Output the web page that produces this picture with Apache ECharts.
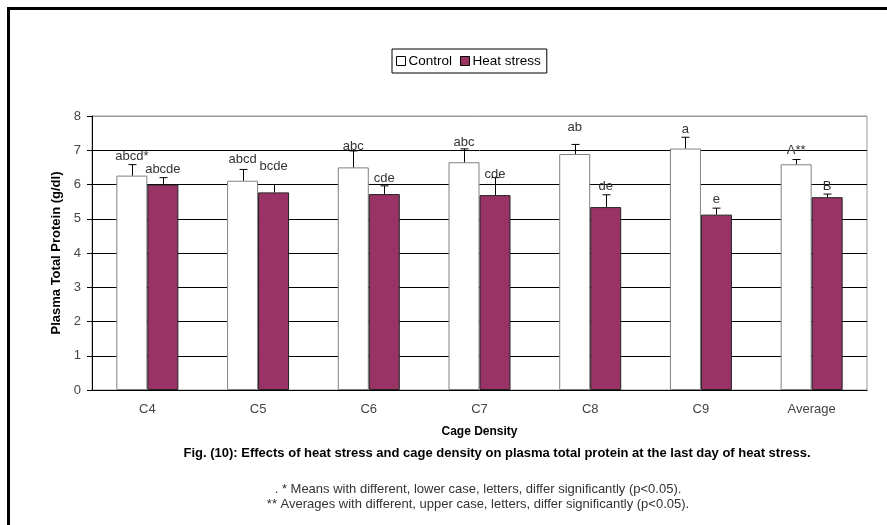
<!DOCTYPE html>
<html>
<head>
<meta charset="utf-8">
<script src="https://cdn.jsdelivr.net/npm/echarts@6/dist/echarts.min.js"></script>
<style>
html,body{margin:0;padding:0;background:#fff;}
#chart{width:887px;height:525px;}
</style>
</head>
<body>
<div id="chart"></div>
<script>
const categories = ['C4', 'C5', 'C6', 'C7', 'C8', 'C9', 'Average'];
const control = [6.26, 6.11, 6.50, 6.65, 6.89, 7.05, 6.59];
const heat = [6.00, 5.77, 5.72, 5.69, 5.34, 5.12, 5.63];
const controlErr = [0.32, 0.33, 0.48, 0.39, 0.28, 0.33, 0.14];
const heatErr = [0.20, 0.23, 0.24, 0.51, 0.36, 0.19, 0.09];
const controlLetters = ['abcd*', 'abcd', 'abc', 'abc', 'ab', 'a', 'A**'];
const heatLetters = ['abcde', 'bcde', 'cde', 'cde', 'de', 'e', 'B'];
const controlLetterLevel = [6.83, 6.72, 7.10, 7.23, 7.66, 7.61, 6.99];
const heatLetterLevel = [6.44, 6.52, 6.17, 6.30, 5.94, 5.57, 5.94];
const yTicks = [0, 1, 2, 3, 4, 5, 6, 7, 8];

const FONT = '"Liberation Sans", Arial, sans-serif';
const chart = echarts.init(document.getElementById('chart'), null, {renderer: 'canvas'});

function errRender(sign, vals, errs, letters, levels) {
  return function (params, api) {
    const i = params.dataIndex;
    const band = api.size([1, 0])[0];
    const dx = sign * band * 0.14;
    const top = api.coord([i, vals[i]]);
    const eTop = api.coord([i, vals[i] + errs[i]]);
    const lab = api.coord([i, levels[i]]);
    const x = Math.round(top[0] + dx) + 0.5;
    return {
      type: 'group',
      children: [
        {type: 'line', shape: {x1: x, y1: top[1], x2: x, y2: eTop[1]}, style: {stroke: '#000', lineWidth: 1}},
        {type: 'line', shape: {x1: x - 4, y1: eTop[1], x2: x + 4, y2: eTop[1]}, style: {stroke: '#000', lineWidth: 1}},
        {type: 'text', x: top[0] + dx, y: lab[1], style: {text: letters[i], fill: '#333', font: '13px ' + FONT, textAlign: 'center', textVerticalAlign: 'middle'}}
      ]
    };
  };
}

const splitColors = yTicks.map(v => v === yTicks[yTicks.length - 1] ? '#999' : '#000');

const option = {
  animation: false,
  backgroundColor: '#fff',
  textStyle: {fontFamily: FONT},
  legend: {
    data: [
      {name: 'Control', icon: 'rect', itemStyle: {color: '#fff', borderColor: '#000', borderWidth: 1}},
      {name: 'Heat stress', icon: 'rect', itemStyle: {color: '#993366', borderColor: '#000', borderWidth: 1}}
    ],
    left: 392,
    top: 49,
    itemWidth: 9,
    itemHeight: 9,
    itemGap: 8,
    padding: [5, 6, 5, 4],
    borderColor: '#000',
    borderWidth: 1,
    backgroundColor: '#fff',
    textStyle: {fontFamily: FONT, fontSize: 13.5, color: '#000', padding: [0, 0, 0, -2]}
  },
  grid: {left: 92, right: 20, top: 116, bottom: 135, show: true, borderColor: '#999', borderWidth: 1, backgroundColor: 'transparent'},
  xAxis: {
    type: 'category',
    data: categories,
    name: 'Cage Density',
    nameLocation: 'middle',
    nameGap: 36,
    nameTextStyle: {fontFamily: FONT, fontSize: 12, fontWeight: 'bold', color: '#000'},
    axisLine: {lineStyle: {color: '#000', width: 1}},
    axisTick: {length: 5, lineStyle: {color: '#000'}},
    axisLabel: {fontFamily: FONT, fontSize: 13, color: '#444', margin: 13}
  },
  yAxis: {
    type: 'value',
    min: 0,
    max: 8,
    interval: 1,
    name: 'Plasma Total Protein (g/dl)',
    nameLocation: 'middle',
    nameGap: 27,
    nameTextStyle: {fontFamily: FONT, fontSize: 13, fontWeight: 'bold', color: '#000'},
    axisLine: {show: true, lineStyle: {color: '#000', width: 1}},
    axisTick: {show: true, length: 5, lineStyle: {color: '#000'}},
    axisLabel: {fontFamily: FONT, fontSize: 13, color: '#444', margin: 11},
    splitLine: {show: true, lineStyle: {color: splitColors, width: 1}}
  },
  series: [
    {
      name: 'Control', type: 'bar', data: control,
      barGap: '0%', barCategoryGap: '44%',
      itemStyle: {color: '#fff', borderColor: '#808080', borderWidth: 1}
    },
    {
      name: 'Heat stress', type: 'bar', data: heat,
      barGap: '0%', barCategoryGap: '44%',
      itemStyle: {color: '#993366', borderColor: '#222', borderWidth: 1}
    },
    {
      type: 'custom', name: 'ctrlErr', z: 5,
      data: control.map((v, i) => [i, v + controlErr[i]]),
      encode: {x: 0, y: 1},
      renderItem: errRender(-1, control, controlErr, controlLetters, controlLetterLevel)
    },
    {
      type: 'custom', name: 'heatErr', z: 5,
      data: heat.map((v, i) => [i, v + heatErr[i]]),
      encode: {x: 0, y: 1},
      renderItem: errRender(1, heat, heatErr, heatLetters, heatLetterLevel)
    }
  ],
  graphic: [
    {type: 'line', shape: {x1: 7, y1: 8.5, x2: 887, y2: 8.5}, style: {stroke: '#000', lineWidth: 3}},
    {type: 'line', shape: {x1: 8.5, y1: 7, x2: 8.5, y2: 525}, style: {stroke: '#000', lineWidth: 3}},
    {type: 'text', x: 497, y: 453, style: {text: 'Fig. (10): Effects of heat stress and cage density on plasma total protein at the last day of heat stress.', font: 'bold 13px ' + FONT, fill: '#000', textAlign: 'center', textVerticalAlign: 'middle'}},
    {type: 'text', x: 478, y: 489, style: {text: '. * Means with different, lower case, letters, differ significantly (p<0.05).', font: '13px ' + FONT, fill: '#333', textAlign: 'center', textVerticalAlign: 'middle'}},
    {type: 'text', x: 478, y: 504, style: {text: '** Averages with different, upper case, letters, differ significantly (p<0.05).', font: '13px ' + FONT, fill: '#333', textAlign: 'center', textVerticalAlign: 'middle'}}
  ]
};
chart.setOption(option);
</script>
</body>
</html>
